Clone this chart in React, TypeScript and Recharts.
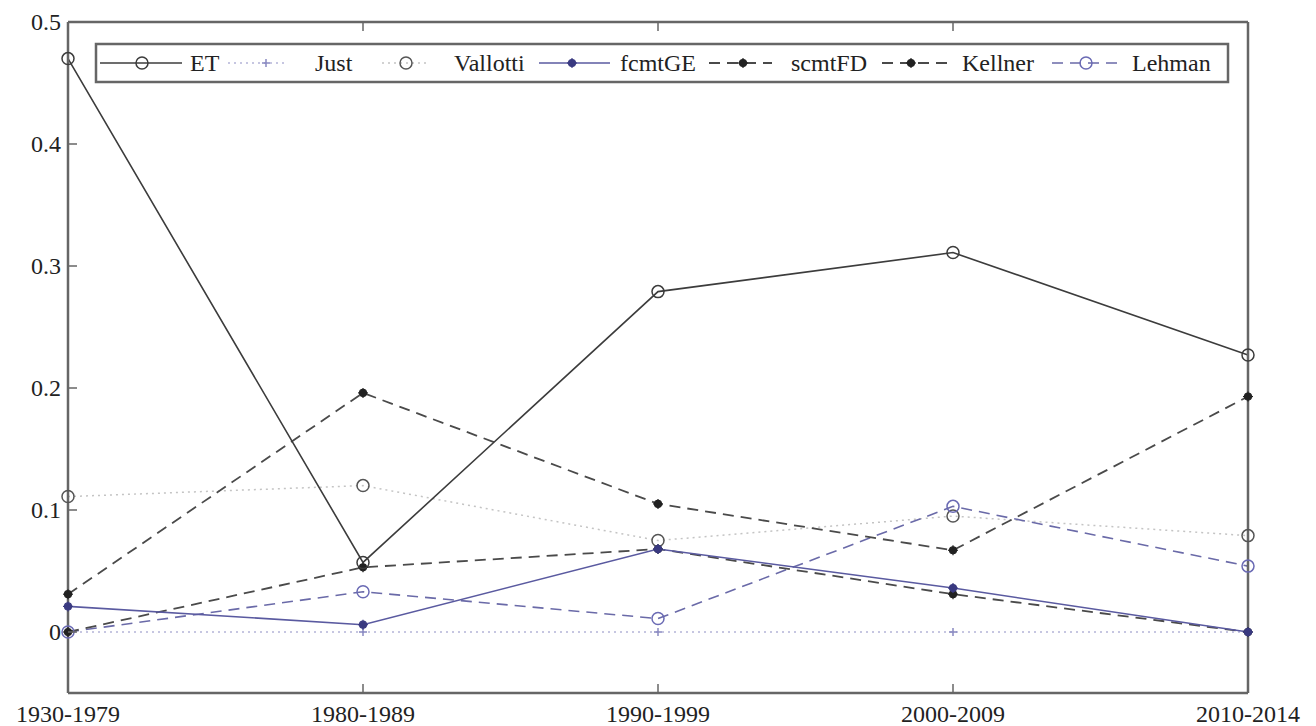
import React from 'react';
import { LineChart, Line, XAxis, YAxis } from 'recharts';

const periods = ['1930-1979', '1980-1989', '1990-1999', '2000-2009', '2010-2014'];
const etValues = [0.47, 0.057, 0.279, 0.311, 0.227];
const justValues = [0, 0, 0, 0, 0];
const vallottiValues = [0.111, 0.12, 0.075, 0.095, 0.079];
const fcmtGEValues = [0.021, 0.006, 0.068, 0.036, 0];
const scmtFDValues = [0.031, 0.196, 0.105, 0.067, 0.193];
const kellnerValues = [0, 0.053, 0.068, 0.031, 0];
const lehmanValues = [0, 0.033, 0.011, 0.103, 0.054];
const yTicks = [0, 0.1, 0.2, 0.3, 0.4, 0.5];

type Marker = 'circle' | 'plus' | 'star';
interface SeriesDef {
  key: string;
  name: string;
  values: number[];
  stroke: string;
  markerColor: string;
  dash?: string;
  width: number;
  marker: Marker;
}

const series: SeriesDef[] = [
  { key: 'vallotti', name: 'Vallotti', values: vallottiValues, stroke: '#c4c4c4', markerColor: '#555', dash: '2 4', width: 1.5, marker: 'circle' },
  { key: 'just', name: 'Just', values: justValues, stroke: '#b4b4d8', markerColor: '#8888c0', dash: '2 4', width: 1.5, marker: 'plus' },
  { key: 'lehman', name: 'Lehman', values: lehmanValues, stroke: '#6a6aa8', markerColor: '#6a6ab4', dash: '11 7', width: 1.6, marker: 'circle' },
  { key: 'kellner', name: 'Kellner', values: kellnerValues, stroke: '#4a4a4a', markerColor: '#222', dash: '11 7', width: 1.8, marker: 'star' },
  { key: 'scmtFD', name: 'scmtFD', values: scmtFDValues, stroke: '#4a4a4a', markerColor: '#222', dash: '11 7', width: 1.8, marker: 'star' },
  { key: 'fcmtGE', name: 'fcmtGE', values: fcmtGEValues, stroke: '#5a5aa0', markerColor: '#3a3a80', width: 1.6, marker: 'star' },
  { key: 'et', name: 'ET', values: etValues, stroke: '#3c3c3c', markerColor: '#3c3c3c', width: 1.6, marker: 'circle' },
];

const legendOrder = ['et', 'just', 'vallotti', 'fcmtGE', 'scmtFD', 'kellner', 'lehman'];
// legend layout: [sample start, sample end, marker x, text x]
const legendLayout: Record<string, number[]> = {
  et: [100, 182, 142, 190],
  just: [228, 286, 266, 315],
  vallotti: [382, 430, 406, 454],
  fcmtGE: [539, 610, 572, 620],
  scmtFD: [709, 772, 743, 791],
  kellner: [882, 947, 911, 962],
  lehman: [1052, 1119, 1086, 1132],
};

const rows = periods.map((p, i) => {
  const r: Record<string, string | number> = { period: p };
  series.forEach((s) => {
    r[s.key] = s.values[i];
  });
  return r;
});

const FONT = '"Liberation Serif", "Times New Roman", serif';

function drawMarker(kind: Marker, color: string, cx: number, cy: number, key?: string) {
  if (kind === 'circle') {
    return <circle key={key} cx={cx} cy={cy} r={6} fill="none" stroke={color} strokeWidth={1.5} />;
  }
  if (kind === 'plus') {
    return (
      <g key={key} stroke={color} strokeWidth={1.5}>
        <line x1={cx - 4} y1={cy} x2={cx + 4} y2={cy} />
        <line x1={cx} y1={cy - 4} x2={cx} y2={cy + 4} />
      </g>
    );
  }
  return (
    <g key={key} stroke={color} strokeWidth={1.2}>
      <circle cx={cx} cy={cy} r={3.5} fill={color} />
      <line x1={cx - 5} y1={cy} x2={cx + 5} y2={cy} />
      <line x1={cx} y1={cy - 5} x2={cx} y2={cy + 5} />
    </g>
  );
}

const makeDot = (s: SeriesDef) => (props: any) => {
  const { cx, cy, index } = props;
  const k = `${s.key}-dot-${index}`;
  if (cx == null || cy == null) return <g key={k} />;
  return drawMarker(s.marker, s.markerColor, cx, cy, k);
};

const XTick = (props: any) => {
  const { x, y, payload } = props;
  return (
    <g>
      <line x1={x} y1={y} x2={x} y2={y - 9} stroke="#666" strokeWidth={1.5} />
      <text x={x} y={y + 29} textAnchor="middle" fontFamily={FONT} fontSize={24} fill="#222">
        {payload.value}
      </text>
    </g>
  );
};

const YTick = (props: any) => {
  const { x, y, payload } = props;
  const v = payload.value as number;
  const label = v === 0 ? '0' : String(Math.round(v * 10) / 10);
  return (
    <g>
      <line x1={x} y1={y} x2={x + 9} y2={y} stroke="#666" strokeWidth={1.5} />
      <text x={x - 7} y={y} dy="0.35em" textAnchor="end" fontFamily={FONT} fontSize={24} fill="#222">
        {label}
      </text>
    </g>
  );
};

const RightTick = (props: any) => {
  const { x, y } = props;
  return <line x1={x} y1={y} x2={x - 9} y2={y} stroke="#666" strokeWidth={1.5} />;
};

const TopTick = (props: any) => {
  const { x, y } = props;
  return <line x1={x} y1={y} x2={x} y2={y + 9} stroke="#666" strokeWidth={1.5} />;
};

const axisLine = { stroke: '#666', strokeWidth: 2.5 };

function LegendBox() {
  const cy = 63;
  return (
    <svg width={1316} height={726} style={{ position: 'absolute', left: 0, top: 0, pointerEvents: 'none' }}>
      <rect x={96} y={44} width={1132} height={38} fill="#fff" stroke="#666" strokeWidth={2.5} />
      {legendOrder.map((k) => {
        const s = series.find((d) => d.key === k)!;
        const [x1, x2, mx, tx] = legendLayout[k];
        return (
          <g key={k}>
            <line x1={x1} y1={cy} x2={x2} y2={cy} stroke={s.stroke} strokeWidth={s.width} strokeDasharray={s.dash} />
            {drawMarker(s.marker, s.markerColor, mx, cy)}
            <text x={tx} y={cy} dy="0.35em" fontFamily={FONT} fontSize={24} fill="#222">
              {s.name}
            </text>
          </g>
        );
      })}
    </svg>
  );
}

export default function App() {
  return (
    <div style={{ position: 'absolute', left: 0, top: 0, width: 1316, height: 726, background: '#fff' }}>
      <LineChart width={1316} height={726} data={rows} margin={{ top: 21, right: 67, bottom: 0, left: 8 }}>
        <XAxis
          dataKey="period"
          interval={0}
          height={33}
          tickSize={0}
          tickMargin={0}
          tickLine={false}
          axisLine={axisLine}
          tick={<XTick />}
        />
        <XAxis
          xAxisId="top"
          orientation="top"
          dataKey="period"
          interval={0}
          height={1}
          tickSize={0}
          tickMargin={0}
          tickLine={false}
          axisLine={axisLine}
          tick={<TopTick />}
        />
        <YAxis
          type="number"
          domain={[-0.05, 0.5]}
          ticks={yTicks}
          width={60}
          tickSize={0}
          tickMargin={0}
          tickLine={false}
          axisLine={axisLine}
          tick={<YTick />}
        />
        <YAxis
          yAxisId="right"
          orientation="right"
          type="number"
          domain={[-0.05, 0.5]}
          ticks={yTicks}
          width={1}
          tickSize={0}
          tickMargin={0}
          tickLine={false}
          axisLine={axisLine}
          tick={<RightTick />}
        />
        {series.map((s) => (
          <Line
            key={s.key}
            type="linear"
            dataKey={s.key}
            name={s.name}
            stroke={s.stroke}
            strokeWidth={s.width}
            strokeDasharray={s.dash}
            dot={makeDot(s)}
            activeDot={false}
            isAnimationActive={false}
          />
        ))}
      </LineChart>
      <LegendBox />
    </div>
  );
}
